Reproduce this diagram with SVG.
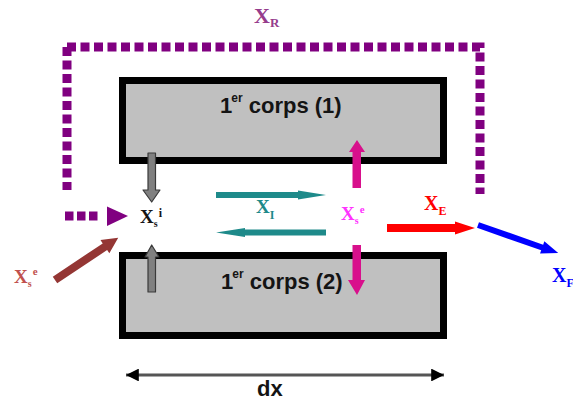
<svg xmlns="http://www.w3.org/2000/svg" width="573" height="401" viewBox="0 0 573 401">
  <style>
    .body { fill: #c0c0c0; stroke: #000; stroke-width: 7; }
    .corps { font-family: "Liberation Sans", Arial, sans-serif; font-weight: bold; font-size: 22px; fill: #141414; }
    .sym { font-family: "Liberation Serif", "Times New Roman", serif; font-weight: bold; }
    .loop { fill: none; stroke: #800080; stroke-width: 9; stroke-dasharray: 9 4.5; }
    .gray { fill: #808080; stroke: #3a3a3a; stroke-width: 1.2; stroke-linejoin: round; }
  </style>
  <defs>
    <marker id="dxHead" viewBox="0 0 10 10" refX="10" refY="5" markerWidth="4.5" markerHeight="4" markerUnits="strokeWidth" orient="auto-start-reverse">
      <path d="M0,0 L10,5 L0,10 z" fill="#000"/>
    </marker>
  </defs>

  <rect width="573" height="401" fill="#fff"/>

  <!-- the two bodies -->
  <g id="corps1">
    <rect class="body" x="122.5" y="80.5" width="321" height="80"/>
    <text class="corps" x="220" y="113">1<tspan dx="-1" dy="-11" font-size="12">er</tspan><tspan dy="11"> corps (1)</tspan></text>
  </g>
  <g id="corps2">
    <rect class="body" x="122.5" y="255.5" width="321" height="80"/>
    <text class="corps" x="221" y="289">1<tspan dx="-1" dy="-11" font-size="12">er</tspan><tspan dy="11"> corps (2)</tspan></text>
  </g>

  <!-- labels -->
  <g id="label-XR">
    <text class="sym" x="254" y="23" font-size="22" fill="#963c8c">X<tspan font-size="13" dy="4">R</tspan></text>
  </g>
  <g id="label-Xsi">
    <text class="sym" x="140" y="223" font-size="19" fill="#151515">X<tspan font-size="10" dy="4">s</tspan><tspan font-size="12" dx="1" dy="-10">i</tspan></text>
  </g>
  <g id="label-XI">
    <text class="sym" x="256" y="213" font-size="19" fill="#1e8a8a">X<tspan font-size="12" dy="6">I</tspan></text>
  </g>
  <g id="label-Xse">
    <text class="sym" x="341" y="220" font-size="19" fill="#ff33ff">X<tspan font-size="10" dy="4">s</tspan><tspan font-size="11" dx="1" dy="-11">e</tspan></text>
  </g>
  <g id="label-XE">
    <text class="sym" x="424" y="210" font-size="20" fill="#ff0000">X<tspan font-size="12" dy="5">E</tspan></text>
  </g>
  <g id="label-Xse-ext">
    <text class="sym" x="14" y="283" font-size="19" fill="#c0504d">X<tspan font-size="10" dy="4">s</tspan><tspan font-size="11" dx="1" dy="-12">e</tspan></text>
  </g>
  <g id="label-Xout">
    <text class="sym" x="552" y="282" font-size="20" fill="#0000ff">X<tspan font-size="12" dy="5">F</tspan></text>
  </g>
  <g id="label-dx">
    <text class="corps" x="257" y="396" font-size="21">dx</text>
  </g>

  <g id="connectors">
    <!-- recycle loop X_R -->
    <path class="loop" d="M67,47 V190"/>
    <path class="loop" d="M67,47 H480 V194"/>
    <path d="M65,216 H99" fill="none" stroke="#800080" stroke-width="9" stroke-dasharray="8.5 3.5"/>
    <polygon points="107,206.5 128,216 107,226" fill="#800080"/>

    <!-- exchanges with the walls -->
    <path class="gray" d="M148,153 H155.5 V190 H160 L151.7,202 L143,190 H148 Z"/>
    <path class="gray" d="M148,292 H155.5 V257 H159 L151.7,245 L145,257 H148 Z"/>
    <path d="M352.5,188 V152 H349 L357,140 L365,152 H361 V188 Z" fill="#d8108c"/>
    <path d="M352.5,245 H361 V280 H365 L357,295 L348,280 H352.5 Z" fill="#d8108c"/>

    <!-- internal exchange X_I -->
    <path d="M216,192 H298 V190.5 L326,195 L298,199.5 V198 H216 Z" fill="#1e8a8a"/>
    <path d="M326,229.5 H245 V228 L216,232.5 L245,237 V235.5 H326 Z" fill="#1e8a8a"/>

    <!-- external input -->
    <g transform="translate(55,280) rotate(-33.7)">
      <path d="M0,-4 H60 V-8 L76,0 L60,8 V4 H0 Z" fill="#943634"/>
    </g>

    <!-- export X_E -->
    <path d="M387,224 H455 V221.5 L475,228 L455,234.5 V232 H387 Z" fill="#ff0000"/>

    <!-- outlet -->
    <g transform="translate(478,225) rotate(19.3)">
      <path d="M0,-3 H68 V-6.5 L85,0 L68,6.5 V3 H0 Z" fill="#0000ff"/>
    </g>

    <!-- length dx -->
    <line x1="126" y1="375" x2="444" y2="375" stroke="#555" stroke-width="3.2" marker-start="url(#dxHead)" marker-end="url(#dxHead)"/>
  </g>
</svg>
